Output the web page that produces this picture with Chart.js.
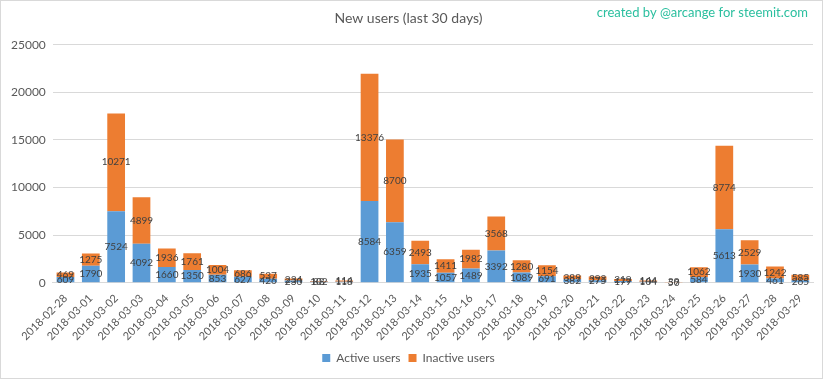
<!DOCTYPE html>
<html>
<head>
<meta charset="utf-8">
<script src="https://cdn.jsdelivr.net/npm/chart.js@4/dist/chart.umd.min.js"></script>
<style>
html,body{margin:0;padding:0;background:#fff;}
#wrap{width:823px;height:379px;position:relative;}
canvas{display:block;}
</style>
</head>
<body>
<div id="wrap"><canvas id="c" width="823" height="379"></canvas></div>
<script>
const dates = ["2018-02-28","2018-03-01","2018-03-02","2018-03-03","2018-03-04","2018-03-05","2018-03-06","2018-03-07","2018-03-08","2018-03-09","2018-03-10","2018-03-11","2018-03-12","2018-03-13","2018-03-14","2018-03-15","2018-03-16","2018-03-17","2018-03-18","2018-03-19","2018-03-20","2018-03-21","2018-03-22","2018-03-23","2018-03-24","2018-03-25","2018-03-26","2018-03-27","2018-03-28","2018-03-29"];
const activeUsers = [609,1790,7524,4092,1660,1350,853,627,426,230,102,118,8584,6359,1935,1057,1489,3392,1089,691,382,275,179,104,50,584,5613,1930,461,265];
const inactiveUsers = [469,1275,10271,4899,1936,1761,1004,686,537,234,88,114,13376,8700,2493,1411,1982,3568,1280,1154,389,393,219,144,39,1062,8774,2529,1242,585];
const yTicks = [0,5000,10000,15000,20000,25000];

const FONT = "Lato, 'Open Sans', sans-serif";

const labelPlugin = {
  id: 'segLabels',
  afterDatasetsDraw(chart) {
    const ctx = chart.ctx;
    ctx.save();
    ctx.font = "10px " + FONT;
    ctx.fillStyle = "#404040";
    ctx.textAlign = "center";
    ctx.textBaseline = "middle";
    chart.data.datasets.forEach((ds, di) => {
      const meta = chart.getDatasetMeta(di);
      meta.data.forEach((bar, i) => {
        const y = (bar.y + bar.base) / 2;
        ctx.fillText(String(ds.data[i]), bar.x, y);
      });
    });
    ctx.restore();
  }
};

const framePlugin = {
  id: 'frame',
  afterDraw(chart) {
    const ctx = chart.ctx;
    ctx.save();
    ctx.strokeStyle = "#d9d9d9";
    ctx.lineWidth = 1;
    ctx.strokeRect(0.5, 0.5, chart.width - 1, chart.height - 1);
    ctx.font = "13px " + FONT;
    ctx.fillStyle = "#2bbf9f";
    ctx.textAlign = "right";
    ctx.textBaseline = "middle";
    ctx.fillText("created by @arcange for steemit.com", 808, 13);
    ctx.restore();
  }
};

new Chart(document.getElementById('c'), {
  type: 'bar',
  data: {
    labels: dates,
    datasets: [
      { label: 'Active users', data: activeUsers, backgroundColor: '#5b9bd5', categoryPercentage: 1.0, barPercentage: 0.7 },
      { label: 'Inactive users', data: inactiveUsers, backgroundColor: '#ed7d31', categoryPercentage: 1.0, barPercentage: 0.7 }
    ]
  },
  options: {
    responsive: false,
    animation: false,
    devicePixelRatio: 1,
    layout: { padding: { left: 4, right: 10, top: 4, bottom: 5 } },
    plugins: {
      title: { display: true, text: 'New users (last 30 days)', color: '#595959', font: { family: FONT, size: 14, weight: 'normal' }, padding: { top: 6, bottom: 18 } },
      legend: { position: 'bottom', labels: { color: '#595959', font: { family: FONT, size: 12 }, boxWidth: 8, boxHeight: 8, padding: 8 } },
      tooltip: { enabled: false }
    },
    scales: {
      x: {
        stacked: true,
        grid: { display: false },
        border: { color: '#d9d9d9' },
        ticks: { color: '#595959', font: { family: FONT, size: 11 }, minRotation: 45, maxRotation: 45, autoSkip: false, padding: 1 }
      },
      y: {
        stacked: true,
        min: 0, max: 25000,
        afterBuildTicks(scale) { scale.ticks = yTicks.map(v => ({ value: v })); },
        grid: { color: '#d9d9d9', drawTicks: false },
        border: { display: false },
        ticks: { color: '#595959', font: { family: FONT, size: 12 }, padding: 7, callback: v => String(v) }
      }
    }
  },
  plugins: [labelPlugin, framePlugin]
});
</script>
</body>
</html>
